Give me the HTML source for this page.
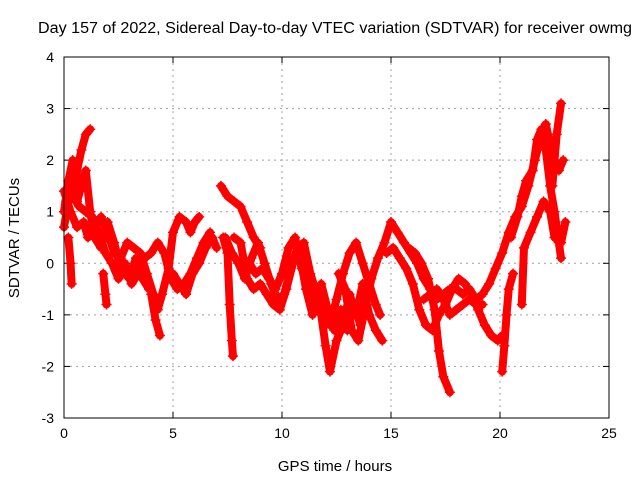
<!DOCTYPE html>
<html><head><meta charset="utf-8"><style>
body{margin:0;background:#fff}
svg{display:block;font-family:"Liberation Sans",sans-serif}
</style></head><body>
<svg id="chart" width="640" height="480" viewBox="0 0 640 480">
<rect width="640" height="480" fill="#fff"/>
<text x="335" y="33" font-size="15.5" text-anchor="middle" textLength="594" lengthAdjust="spacingAndGlyphs">Day 157 of 2022, Sidereal Day-to-day VTEC variation (SDTVAR) for receiver owmg</text>
<text x="335" y="471" font-size="15" text-anchor="middle">GPS time / hours</text>
<text transform="translate(19,238) rotate(-90)" font-size="15" text-anchor="middle">SDTVAR / TECUs</text>
<g id="grid"></g>
<g id="ticks"></g>
<g id="series"></g>
<rect x="64" y="57" width="545" height="361" fill="none" stroke="#000" stroke-width="1"/>
</svg>
<script>
const xTicks=[0,5,10,15,20,25];
const yTicks=[-3,-2,-1,0,1,2,3,4];
const t1=[[0,0.7],[0.2,1.2],[0.4,1.6],[0.5,1.3],[0.6,1.8],[0.8,2.2],[1.0,2.5],[1.2,2.6]];
const t2=[[0,1.4],[0.3,1.0],[0.6,0.7],[0.9,0.8],[1.1,0.5],[1.4,0.7],[1.7,0.9],[2.0,0.6],[2.3,0.2],[2.6,0.1],[2.9,0.4],[3.2,0.3],[3.5,0.2],[3.8,-0.2],[4.1,-0.6],[4.3,-0.9],[4.5,-0.6],[4.8,-0.1],[5.0,0.6],[5.3,0.9],[5.6,0.8],[5.8,0.6],[6.0,0.8],[6.2,0.9]];
const t3=[[0.1,1.2],[0.4,1.3],[0.7,1.1],[1.0,1.0],[1.3,0.9],[1.6,0.6],[1.9,0.2],[2.2,0.0],[2.5,-0.3],[2.8,0.0],[3.1,-0.4],[3.4,-0.2],[3.7,0.1],[4.0,0.2],[4.3,0.4],[4.6,0.2],[4.9,-0.3],[5.2,-0.5],[5.5,-0.4],[5.8,-0.2],[6.1,0.1],[6.4,0.4],[6.7,0.6]];
const t3b=[[0,1.0],[0.2,1.6],[0.4,2.0],[0.6,1.2],[0.8,1.5],[1.0,1.8],[1.2,1.0],[1.4,0.5],[1.7,0.3],[2.0,0.8],[2.3,0.4],[2.6,-0.1],[3.0,-0.3],[3.3,0.1],[3.6,-0.3],[3.9,-0.5]];
const t4=[[0.2,0.5],[0.3,0],[0.35,-0.4]];
const t5=[[1.8,-0.2],[1.9,-0.6],[1.95,-0.8]];
const t6=[[4.0,-0.6],[4.2,-1.1],[4.4,-1.4]];
const t7=[[5.0,-0.2],[5.3,-0.4],[5.6,-0.6],[5.9,-0.2],[6.2,0],[6.5,0.3],[6.8,0.5],[7.0,0.3]];
const t8=[[7.2,1.5],[7.5,1.3],[7.8,1.2],[8.1,1.1],[8.4,0.8],[8.7,0.5],[9.0,0.3]];
const t9=[[7.3,0.5],[7.5,0.2],[7.6,-0.8],[7.7,-1.5],[7.75,-1.8]];
const t10=[[7.4,0.5],[7.7,0.2],[8.0,0],[8.3,-0.3],[8.6,0.1],[8.9,0.4],[9.2,0],[9.5,-0.4],[9.8,-0.7],[10.1,-0.6],[10.4,-0.1],[10.7,0.3],[11.0,0.4],[11.3,-0.2],[11.6,-0.6],[11.9,-1.0],[12.2,-1.2],[12.5,-0.7],[12.8,-0.2],[13.1,0.2],[13.4,0.4],[13.7,0],[14.0,-0.4],[14.3,-0.8],[14.5,-1.0]];
const t11=[[7.8,0.5],[8.1,0.4],[8.4,-0.3],[8.7,-0.5],[9.0,-0.4],[9.3,-0.6],[9.6,-0.8],[9.9,-0.9],[10.2,-0.5],[10.5,0],[10.8,0.2],[11.1,-0.5],[11.4,-1.0],[11.7,-0.7],[12.0,-1.6],[12.2,-2.1],[12.5,-1.5],[12.8,-1.2],[13.1,-0.6],[13.4,-1.0],[13.7,-0.4],[14.0,-1.0],[14.3,-1.3],[14.6,-1.5]];
const t11b=[[8.5,0],[8.8,-0.2],[9.1,-0.1],[9.4,-0.3],[9.7,-0.5],[10.0,-0.2],[10.3,0.3],[10.6,0.5],[10.9,-0.1],[11.2,-0.3],[11.5,-0.8],[11.8,-0.4],[12.1,-0.9],[12.4,-1.3],[12.7,-0.9],[13.0,-1.3],[13.3,-0.8],[13.6,-1.2],[13.9,-0.7]];
const t12=[[12.6,-0.2],[12.9,-0.5],[13.2,-1.3],[13.5,-1.5],[13.8,-0.9],[14.1,-0.3],[14.4,0.1],[14.7,0.4],[15.0,0.8],[15.3,0.6],[15.6,0.4],[15.9,0.2],[16.2,0],[16.5,-0.3],[16.8,-0.5],[17.1,-0.7],[17.4,-0.6],[17.7,-0.5],[18.0,-0.5],[18.3,-0.6],[18.6,-0.5],[18.9,-0.7],[19.2,-0.6],[19.5,-0.4],[19.8,-0.1],[20.1,0.2],[20.4,0.6],[20.7,0.9],[21.0,1.1],[21.3,1.5],[21.6,2.0],[21.9,2.5],[22.1,2.7],[22.3,2.3],[22.5,2.0],[22.7,1.8],[22.9,2.0]];
const t13=[[14.8,0.2],[15.1,0.3],[15.4,0.1],[15.7,-0.1],[16.0,-0.4],[16.3,-0.9],[16.6,-1.2],[16.9,-1.3],[17.2,-1.0],[17.5,-0.8],[17.8,-0.5],[18.1,-0.3],[18.4,-0.4],[18.7,-0.6],[19.0,-0.9],[19.3,-1.2],[19.6,-1.4],[19.9,-1.5],[20.1,-1.4]];
const t14=[[15.8,0.3],[16.1,0.2],[16.4,0],[16.7,-0.3],[17.0,-0.9],[17.2,-1.7],[17.4,-2.2],[17.7,-2.5]];
const t15=[[16.5,-0.7],[16.8,-0.6],[17.1,-0.5],[17.4,-0.7],[17.7,-1.0],[18.0,-0.9],[18.3,-0.8],[18.6,-0.7],[18.9,-0.8],[19.2,-0.8]];
const t16=[[20.1,-2.1],[20.2,-1.6],[20.3,-1.0],[20.4,-0.5],[20.6,-0.2]];
const t17=[[20.5,0.5],[20.8,0.9],[21.0,1.3],[21.2,1.6],[21.5,1.8],[21.7,2.4],[21.9,2.6],[22.1,2.2],[22.3,1.5],[22.5,1.0],[22.7,0.4],[22.8,0.1]];
const t18=[[21.0,-0.8],[21.1,0.3],[21.4,0.6],[21.7,0.9],[22.0,1.2],[22.3,1.0],[22.5,0.5],[22.8,0.4],[23.0,0.8]];
const t19=[[22.4,1.5],[22.6,2.5],[22.8,3.1]];
const allSeries=[t1,t2,t3,t3b,t4,t5,t6,t7,t8,t9,t10,t11,t11b,t12,t13,t14,t15,t16,t17,t18,t19];

const NS='http://www.w3.org/2000/svg';
const L=64,R=609,T=57,B=418;
const xs=v=>L+(v-0)/(25-0)*(R-L);
const ys=v=>B-(v+3)/(4+3)*(B-T);
const grid=document.getElementById('grid'),ticks=document.getElementById('ticks'),ser=document.getElementById('series');
function mk(tag,attrs,parent){const e=document.createElementNS(NS,tag);for(const k in attrs)e.setAttribute(k,attrs[k]);parent.appendChild(e);return e;}
xTicks.forEach(v=>{const x=xs(v);
 if(v>0&&v<25){const g=mk('line',{x1:x,x2:x,y1:T,y2:B,stroke:'#a0a0a0','stroke-dasharray':'2,4'},grid);}
 mk('line',{x1:x,x2:x,y1:B,y2:B-6,stroke:'#000'},ticks);mk('line',{x1:x,x2:x,y1:T,y2:T+6,stroke:'#000'},ticks);
 const t=mk('text',{x:x,y:B+20,'font-size':14,'text-anchor':'middle'},ticks);t.textContent=v;
 
 });
yTicks.forEach(v=>{const y=ys(v);
 if(v>-3&&v<4){const g=mk('line',{x1:L,x2:R,y1:y,y2:y,stroke:'#a0a0a0','stroke-dasharray':'2,4'},grid);}
 mk('line',{x1:L,x2:L+6,y1:y,y2:y,stroke:'#000'},ticks);mk('line',{x1:R,x2:R-6,y1:y,y2:y,stroke:'#000'},ticks);
 const t=mk('text',{x:L-10,y:y+5,'font-size':14,'text-anchor':'end'},ticks);t.textContent=v;
 
 });
allSeries.forEach((s,i)=>{
 const pts=s.map(p=>xs(p[0])+','+ys(p[1])).join(' ');
 const pl=mk('polyline',{points:pts,fill:'none',stroke:'#ff0000','stroke-width':8,'stroke-linejoin':'round','stroke-linecap':'round'},ser);
 
 
 s.forEach(p=>{const x=xs(p[0]),y=ys(p[1]);
  const m=mk('path',{d:`M${x-5},${y}H${x+5}M${x},${y-5}V${y+5}`,stroke:'#ff0000','stroke-width':1.5},ser);
  
  });
});
</script>
</body></html>
